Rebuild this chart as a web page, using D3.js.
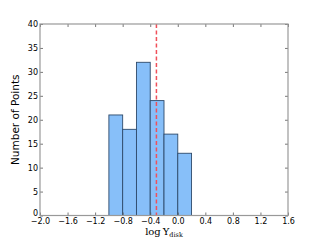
<!DOCTYPE html>
<html><head><meta charset="utf-8">
<script src="https://cdn.jsdelivr.net/npm/d3@7"></script>
<style>body{margin:0;background:#fff}</style>
</head><body>
<svg id="chart"></svg>
<script>
const binStarts = [-1.0, -0.8, -0.6, -0.4, -0.2, 0.0];
const binWidth = 0.2;
const counts = [21, 18, 32, 24, 17, 13];
const xTicks = [-2.0, -1.6, -1.2, -0.8, -0.4, 0.0, 0.4, 0.8, 1.2, 1.6];
const yTicks = [0, 5, 10, 15, 20, 25, 30, 35, 40];
const medianLine = -0.31;

const width = 320, height = 240;
const margin = {top: 24, right: 32, bottom: 24.5, left: 40};

const svg = d3.select("#chart").attr("width", width).attr("height", height);

const x = d3.scaleLinear().domain([-2.0, 1.6]).range([margin.left, width - margin.right]);
const y = d3.scaleLinear().domain([0, 40]).range([height - margin.bottom, margin.top]);

svg.selectAll("rect.bar")
  .data(binStarts)
  .enter()
  .append("rect")
  .attr("class", "bar")
  .attr("x", d => x(d))
  .attr("width", d => x(d + binWidth) - x(d))
  .attr("y", (d, i) => y(counts[i]))
  .attr("height", (d, i) => y(0) - y(counts[i]))
  .style("fill", "#87bff9")
  .style("stroke", "#2e4a6a")
  .style("stroke-width", 0.9);

svg.append("line")
  .attr("x1", x(medianLine)).attr("x2", x(medianLine))
  .attr("y1", y(40)).attr("y2", y(0))
  .style("stroke", "#f0505a")
  .style("stroke-width", 1.5)
  .style("stroke-dasharray", "4,2.5");

// ticks on all four sides, pointing inward
const tickLen = 3;
const axes = [
  d3.axisBottom(x).tickValues(xTicks).tickSizeInner(-tickLen).tickSizeOuter(0).tickFormat(d => d3.format(".1f")(d).replace("-", "\u2212")),
  d3.axisTop(x).tickValues(xTicks).tickSizeInner(-tickLen).tickSizeOuter(0).tickFormat(""),
  d3.axisLeft(y).tickValues(yTicks).tickSizeInner(-tickLen).tickSizeOuter(0),
  d3.axisRight(y).tickValues(yTicks).tickSizeInner(-tickLen).tickSizeOuter(0).tickFormat("")
];
const trans = [
  `translate(0,${height - margin.bottom})`,
  `translate(0,${margin.top})`,
  `translate(${margin.left},0)`,
  `translate(${width - margin.right},0)`
];
axes.forEach((ax, i) => {
  const g = svg.append("g").attr("transform", trans[i]).call(ax);
  g.select(".domain").remove();
  g.selectAll(".tick line").style("stroke", "#555").style("stroke-width", 0.8);
  g.selectAll(".tick text")
    .style("font-family", "DejaVu Sans")
    .style("font-size", "8px")
    .style("fill", "#000");
  if (i == 0) g.selectAll(".tick text").attr("dy", "0.71em").attr("y", 3);
  if (i == 2) g.selectAll(".tick text").attr("x", -2).attr("dy", d => d == 0 ? "-0.05em" : "0.32em");
});

svg.append("rect")
  .attr("x", margin.left).attr("y", margin.top)
  .attr("width", width - margin.left - margin.right)
  .attr("height", height - margin.top - margin.bottom)
  .style("fill", "none")
  .style("stroke", "#999")
  .style("stroke-width", 1.2);

svg.append("text")
  .attr("transform", `translate(19,${(margin.top + height - margin.bottom) / 2}) rotate(-90)`)
  .style("text-anchor", "middle")
  .style("font-family", "DejaVu Sans")
  .style("font-size", "10.5px")
  .text("Number of Points");

const xl = svg.append("text")
  .attr("x", 164).attr("y", 235)
  .style("text-anchor", "middle")
  .style("font-family", "DejaVu Serif")
  .style("font-size", "10px");
xl.append("tspan").text("log\u2009\u03a5");
xl.append("tspan").attr("dy", 2).style("font-size", "6.5px").text("disk");
</script>
</body></html>
